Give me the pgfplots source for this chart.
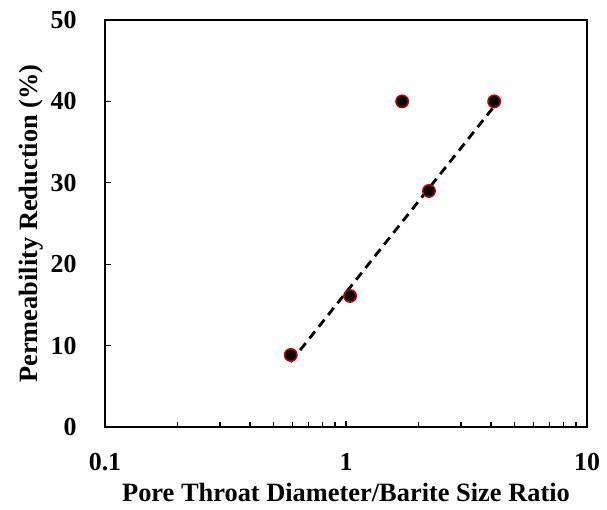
\documentclass[border=0pt]{standalone}
\usepackage{pgfplots}
\pgfplotsset{compat=1.18}
\usepackage{fontspec}
\setmainfont{Liberation Serif}
\definecolor{mkred}{HTML}{C00000}
\begin{document}
\begin{tikzpicture}
\path[use as bounding box] (-105bp,-83bp) rectangle (502bp,427bp);
\begin{axis}[
  at={(0,0)}, anchor=south west,
  scale only axis, width=482bp, height=407bp,
  xmode=log, xmin=0.1, xmax=10, ymin=0, ymax=50,
  xtick={0.1,1,10}, xticklabels={0.1,1,10},
  ytick={0,10,20,30,40,50},
  minor xtick={0.2,0.3,0.4,0.5,0.6,0.7,0.8,0.9,2,3,4,5,6,7,8,9},
  tick align=inside, xtick pos=bottom, ytick pos=left,
  major tick length=6bp, minor tick length=5bp,
  every tick/.style={black, line width=1.2bp},
  axis line style={black, line width=1.6bp},
  /pgf/number format/assume math mode=true,
  ticklabel style={font=\fontsize{26}{30}\selectfont\bfseries},
  xticklabel style={yshift=-23bp},
  yticklabel style={xshift=-25bp},
  xlabel={Pore Throat Diameter/Barite Size Ratio},
  ylabel={Permeability Reduction (\%)},
  label style={font=\fontsize{26.5}{30}\selectfont\bfseries},
  xlabel style={yshift=-5bp},
  ylabel style={yshift=1bp},
]
\addplot[black, dashed, line width=2.8bp, dash pattern=on 9bp off 6bp] coordinates {(0.59,8.0) (4.12,39.4)};
\addplot[only marks, mark=*, mark size=6.2bp, mark options={fill=black, draw=mkred, line width=1.5bp}] coordinates {
(0.59,8.85) (1.04,16.1) (1.71,40) (2.21,29.0) (4.12,40)};
\end{axis}
\end{tikzpicture}
\end{document}
